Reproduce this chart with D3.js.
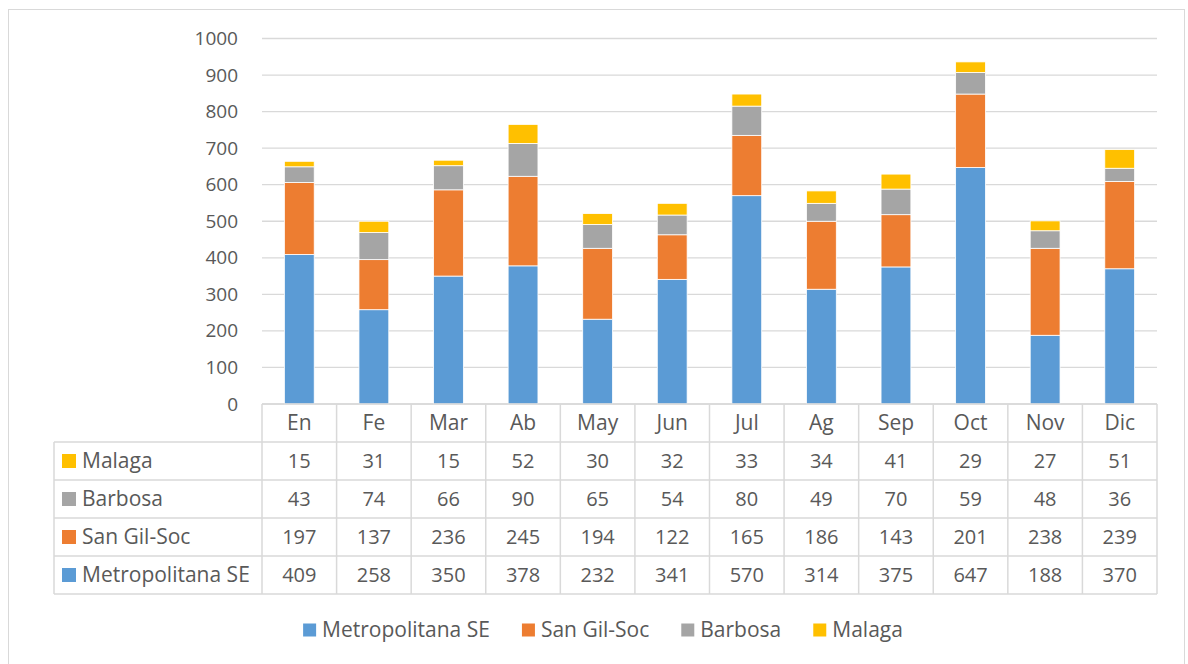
<!DOCTYPE html>
<html>
<head>
<meta charset="utf-8">
<script src="https://cdn.jsdelivr.net/npm/d3@7"></script>
<style>
  body { margin: 0; background: #fff; }
  svg text { font-family: "Open Sans", "Noto Sans", sans-serif; fill: #595959; }
</style>
</head>
<body>
<svg id="chart" width="1188" height="664"></svg>
<script>

//  values
var months = ['En', 'Fe', 'Mar', 'Ab', 'May', 'Jun', 'Jul', 'Ag', 'Sep', 'Oct', 'Nov', 'Dic'];
var series = ['Metropolitana SE', 'San Gil-Soc', 'Barbosa', 'Malaga'];
var metropolitana = [409, 258, 350, 378, 232, 341, 570, 314, 375, 647, 188, 370];
var sanGil = [197, 137, 236, 245, 194, 122, 165, 186, 143, 201, 238, 239];
var barbosa = [43, 74, 66, 90, 65, 54, 80, 49, 70, 59, 48, 36];
var malaga = [15, 31, 15, 52, 30, 32, 33, 34, 41, 29, 27, 51];
var yTicks = [0, 100, 200, 300, 400, 500, 600, 700, 800, 900, 1000];

var colors = {
    'Metropolitana SE' : '#5b9bd5',
    'San Gil-Soc' : '#ed7d31',
    'Barbosa' : '#a5a5a5',
    'Malaga' : '#ffc000'
};

var values = {
    'Metropolitana SE' : metropolitana,
    'San Gil-Soc' : sanGil,
    'Barbosa' : barbosa,
    'Malaga' : malaga
};

var svg = d3.select('#chart');

var plot = { left : 262, right : 1157, top : 38.5, bottom : 404 };
var rowH = 38;
var labelLeft = 54;

// outer chart border
svg.append('rect')
    .attr('x', 8.5).attr('y', 9.5)
    .attr('width', 1176).attr('height', 660)
    .attr('fill', 'none')
    .attr('stroke', '#d9d9d9');

var x = d3.scaleBand()
    .domain(months)
    .range([plot.left, plot.right])
    .paddingInner(0.6)
    .paddingOuter(0.3);

var xCol = d3.scaleBand()
    .domain(months)
    .range([plot.left, plot.right]);

var y = d3.scaleLinear()
    .domain([0, 1000])
    .range([plot.bottom, plot.top]);

// gridlines
svg.append('g')
    .selectAll('line')
    .data(yTicks)
    .enter()
    .append('line')
    .attr('x1', plot.left)
    .attr('x2', plot.right)
    .attr('y1', function(d) { return y(d); })
    .attr('y2', function(d) { return y(d); })
    .attr('stroke', '#d9d9d9')
    .attr('stroke-width', 1.3);

// y axis labels
var yAxis = d3.axisLeft(y)
    .tickValues(yTicks)
    .tickFormat(d3.format('d'))
    .tickSize(0)
    .tickPadding(24);
var yg = svg.append('g')
    .attr('transform', 'translate(' + plot.left + ',0)')
    .call(yAxis);
yg.select('.domain').remove();
yg.selectAll('text')
    .style('font-size', '19px')
    .attr('fill', '#595959');

// stacked bars
var rows = months.map(function(m, i) {
    var r = { month : m };
    series.forEach(function(s) { r[s] = values[s][i]; });
    return r;
});

var stack = d3.stack().keys(series)(rows);

svg.append('g')
    .selectAll('g')
    .data(stack)
    .enter()
    .append('g')
    .attr('fill', function(d) { return colors[d.key]; })
    .selectAll('rect')
    .data(function(d) { return d; })
    .enter()
    .append('rect')
    .attr('x', function(d) { return x(d.data.month); })
    .attr('width', x.bandwidth())
    .attr('y', function(d) { return y(d[1]); })
    .attr('height', function(d) { return y(d[0]) - y(d[1]); })
    .attr('stroke', '#fff')
    .attr('stroke-width', 0.8);

// data table
var table = svg.append('g');
var tableRows = ['Malaga', 'Barbosa', 'San Gil-Soc', 'Metropolitana SE'];
var tableTop = plot.bottom;
var tableBottom = tableTop + rowH * (tableRows.length + 1);
var lineColor = '#d9d9d9';

// horizontal lines
for (var i = 0; i <= tableRows.length + 1; i++) {
    var yy = tableTop + i * rowH;
    table.append('line')
        .attr('x1', i === 0 ? plot.left : labelLeft)
        .attr('x2', plot.right)
        .attr('y1', yy).attr('y2', yy)
        .attr('stroke', lineColor)
        .attr('stroke-width', 1.5);
}

// vertical lines
months.forEach(function(m) {
    table.append('line')
        .attr('x1', xCol(m)).attr('x2', xCol(m))
        .attr('y1', tableTop).attr('y2', tableBottom)
        .attr('stroke', lineColor)
        .attr('stroke-width', 1.5);
});
table.append('line')
    .attr('x1', plot.right).attr('x2', plot.right)
    .attr('y1', tableTop).attr('y2', tableBottom)
    .attr('stroke', lineColor).attr('stroke-width', 1.5);
table.append('line')
    .attr('x1', labelLeft).attr('x2', labelLeft)
    .attr('y1', tableTop + rowH).attr('y2', tableBottom)
    .attr('stroke', lineColor).attr('stroke-width', 1.5);

// month headers
table.selectAll('.month')
    .data(months)
    .enter()
    .append('text')
    .attr('class', 'month')
    .attr('x', function(d) { return xCol(d) + xCol.bandwidth() / 2; })
    .attr('y', tableTop + rowH / 2)
    .attr('dy', '0.35em')
    .attr('text-anchor', 'middle')
    .style('font-size', '21px')
    .text(function(d) { return d; });

tableRows.forEach(function(s, r) {
    var cy = tableTop + (r + 1) * rowH + rowH / 2;

    table.append('rect')
        .attr('x', labelLeft + 8).attr('y', cy - 7)
        .attr('width', 14).attr('height', 14)
        .attr('fill', colors[s]);

    table.append('text')
        .attr('x', labelLeft + 28)
        .attr('y', cy)
        .attr('dy', '0.35em')
        .style('font-size', '21px')
        .text(s);

    table.selectAll('.v' + r)
        .data(values[s])
        .enter()
        .append('text')
        .attr('x', function(d, i) { return xCol(months[i]) + xCol.bandwidth() / 2; })
        .attr('y', cy)
        .attr('dy', '0.35em')
        .attr('text-anchor', 'middle')
        .style('font-size', '20px')
        .text(function(d) { return d; });
});

// legend, centred like the reference
var legend = svg.append('g');
var legendY = 630;
var cursor = 0;
var items = series.map(function(s) {
    var g = legend.append('g');
    g.append('rect')
        .attr('x', 0).attr('y', legendY - 6.5)
        .attr('width', 13).attr('height', 13)
        .attr('fill', colors[s]);
    var t = g.append('text')
        .attr('x', 19)
        .attr('y', legendY)
        .attr('dy', '0.35em')
        .style('font-size', '21px')
        .text(s);
    var w = 19 + t.node().getComputedTextLength();
    g.attr('transform', 'translate(' + cursor + ',0)');
    cursor += w + 32;
    return g;
});
var total = cursor - 32;
legend.attr('transform', 'translate(' + (603 - total / 2) + ',0)');

</script>
</body>
</html>
